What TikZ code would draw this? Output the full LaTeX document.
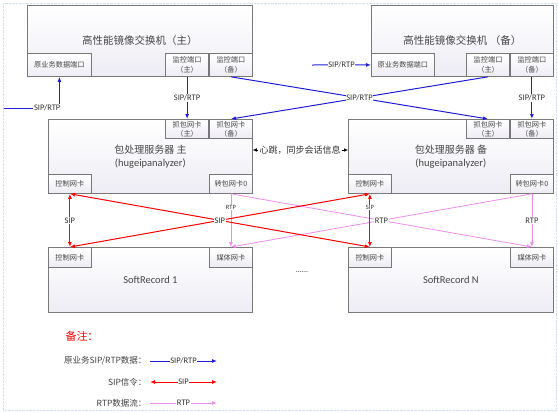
\documentclass[tikz,border=0pt]{standalone}
\usepackage{fontspec}
\setmainfont{Carlito}
\newfontfamily\cjk{Noto Sans CJK SC}
\usetikzlibrary{arrows.meta,positioning}
\definecolor{boxline}{RGB}{120,120,120}
\definecolor{boxfill}{RGB}{238,236,244}
\definecolor{sipblue}{RGB}{30,30,215}
\definecolor{rtppink}{RGB}{238,140,238}
\definecolor{txtgray}{RGB}{70,70,70}
\definecolor{frameblue}{RGB}{210,222,245}
\tikzset{
  box/.style={draw=boxline, line width=0.8pt, top color=white, bottom color=boxfill,
    inner sep=0pt, anchor=north west, text=txtgray},
  port/.style={draw=boxline, line width=0.8pt, top color=white, bottom color=boxfill,
    inner sep=0pt, minimum width=43pt, minimum height=19pt, text=txtgray, align=center,
    font=\cjk\fontsize{7.2}{9}\selectfont},
  bluearr/.style={draw=sipblue, line width=1pt, -{Latex[length=5pt,width=4pt]}},
  redarr/.style={draw=red, line width=1pt, {Latex[length=5pt,width=4pt]}-{Latex[length=5pt,width=4pt]}},
  pinkarr/.style={draw=rtppink, line width=0.8pt, -{Latex[length=5pt,width=4pt]}},
  lbl/.style={fill=white, inner sep=0.6pt, text=black!80, font=\fontsize{8.5}{9}\selectfont},
  tinylbl/.style={fill=white, inner sep=0.5pt, text=black!80, font=\fontsize{6.5}{7}\selectfont},
  legtxt/.style={anchor=east, text=black!75, font=\cjk\fontsize{8.5}{10}\selectfont}
}

\begin{document}
\begin{tikzpicture}[x=1pt,y=-1pt]
  \useasboundingbox (0,0) rectangle (558,413);
  \draw[frameblue, densely dotted] (3,3) rectangle (556,410);

  % mirror switches
  \node[box, minimum width=225pt, minimum height=71pt, font=\cjk\fontsize{10.5}{12}\selectfont] (swL) at (27,5) {高性能镜像交换机（主）};
  \node[port, minimum width=64pt, minimum height=23pt, anchor=south west] (datL) at (swL.south west) {原业务数据端口};
  \node[port, minimum height=23pt, anchor=south east, font=\cjk\fontsize{7.2}{10}\selectfont] (monLb) at (swL.south east) {监控端口\\（备）};
  \node[port, minimum height=23pt, anchor=south east, font=\cjk\fontsize{7.2}{10}\selectfont] (monLa) at (monLb.south west) {监控端口\\（主）};

  \node[box, minimum width=182pt, minimum height=71pt, font=\cjk\fontsize{10.5}{12}\selectfont] (swR) at (371,5) {高性能镜像交换机 （备）};
  \node[port, minimum width=63pt, minimum height=23pt, anchor=south west] (datR) at (swR.south west) {原业务数据端口};
  \node[port, minimum height=23pt, anchor=south east, font=\cjk\fontsize{7.2}{10}\selectfont] (monRb) at (swR.south east) {监控端口\\（备）};
  \node[port, minimum height=23pt, anchor=south east, font=\cjk\fontsize{7.2}{10}\selectfont] (monRa) at (monRb.south west) {监控端口\\（主）};

  % packet servers
  \node[box, minimum width=204pt, minimum height=74pt, align=center, font=\cjk\fontsize{10}{13}\selectfont] (srvL) at (48,119) {包处理服务器 主\\{\rmfamily\fontsize{10.5}{13}\selectfont (hugeipanalyzer)}};
  \node[port, anchor=north east] (capLb) at (srvL.north east) {抓包网卡\\（备）};
  \node[port, anchor=north east] (capLa) at (capLb.north west) {抓包网卡\\（主）};
  \node[port, anchor=south west] (ctlL) at (srvL.south west) {控制网卡};
  \node[port, anchor=south east] (fwdL) at (srvL.south east) {转包网卡0};

  \node[box, minimum width=205pt, minimum height=74pt, align=center, font=\cjk\fontsize{10}{13}\selectfont] (srvR) at (348,119) {包处理服务器 备\\{\rmfamily\fontsize{10.5}{13}\selectfont (hugeipanalyzer)}};
  \node[port, anchor=north east] (capRb) at (srvR.north east) {抓包网卡\\（备）};
  \node[port, anchor=north east] (capRa) at (capRb.north west) {抓包网卡\\（主）};
  \node[port, anchor=south west] (ctlR) at (srvR.south west) {控制网卡};
  \node[port, anchor=south east] (fwdR) at (srvR.south east) {转包网卡0};

  % heartbeat
  \node (hb) at (300,150) [inner sep=1pt, text=black!80, font=\cjk\fontsize{9}{10}\selectfont] {心跳，同步会话信息};
  \draw[line width=0.6pt, -{Latex[length=4pt,width=3.5pt]}] (hb.west) -- (hb.west -| srvL.east);
  \draw[line width=0.6pt, -{Latex[length=4pt,width=3.5pt]}] (hb.east) -- (hb.east -| srvR.west);

  % recorders
  \node[box, minimum width=204pt, minimum height=65pt, font=\fontsize{10.5}{12}\selectfont] (recL) at (48,247) {SoftRecord 1};
  \node[port, minimum height=20pt, anchor=north west] (rctlL) at (recL.north west) {控制网卡};
  \node[port, minimum height=20pt, anchor=north east] (medL) at (recL.north east) {媒体网卡};

  \node[box, minimum width=205pt, minimum height=65pt, font=\fontsize{10.5}{12}\selectfont] (recR) at (348,247) {SoftRecord N};
  \node[port, minimum height=20pt, anchor=north west] (rctlR) at (recR.north west) {控制网卡};
  \node[port, minimum height=20pt, anchor=north east] (medR) at (recR.north east) {媒体网卡};

  \node (dots) at (302,272) [text=black!80, font=\fontsize{8}{9}\selectfont] {......};

  % RTP streams
  \draw[pinkarr] (fwdL.south) -- node[tinylbl, pos=0.26] {RTP} (medL.north);
  \draw[pinkarr] (fwdL.south) -- (medR.north);
  \draw[pinkarr] (fwdR.south) -- node[lbl] {RTP} (medL.north);
  \draw[pinkarr] (fwdR.south) -- node[lbl] {RTP} (medR.north);

  % SIP signalling
  \draw[redarr] (ctlL.south) -- node[lbl] {SIP} (rctlL.north);
  \draw[redarr] (ctlL.south) -- (rctlR.north);
  \draw[redarr] (rctlL.north) -- node[lbl] {SIP} (ctlR.south);
  \draw[redarr] (ctlR.south) -- node[tinylbl, pos=0.26] {SIP} (rctlR.north);

  % mirrored traffic
  \coordinate (inL) at (4,108);
  \coordinate (inR) at (312,65);
  \draw[bluearr] (inL) -| node[lbl, pos=0.39] {SIP/RTP} (datL.south);
  \draw[bluearr] (inR) -- node[lbl] {SIP/RTP} (datR.west);
  \draw[bluearr] (monLa.south) -- node[lbl] {SIP/RTP} (capLa.north);
  \draw[bluearr] (monLb.south) -- (capRa.north);
  \draw[bluearr] (monRa.south) -- node[lbl] {SIP/RTP} (capLb.north);
  \draw[bluearr] (monRb.south) -- node[lbl] {SIP/RTP} (capRb.north);

  % legend
  \node (notes) at (82,336) [text=red, font=\cjk\fontsize{11}{12}\selectfont] {备注：};
  \node[legtxt] (lgA) at (150,361) {原业务SIP/RTP数据：};
  \node[legtxt] (lgB) at (150,382) {SIP信令：};
  \node[legtxt] (lgC) at (150,403) {RTP数据流：};
  \coordinate (lgAe) at (217,361);
  \coordinate (lgBe) at (217,382);
  \coordinate (lgCe) at (217,403);
  \draw[bluearr] (lgA.east) -- node[lbl] {SIP/RTP} (lgAe);
  \draw[redarr] (lgB.east) -- node[lbl] {SIP} (lgBe);
  \draw[pinkarr] (lgC.east) -- node[lbl] {RTP} (lgCe);
\end{tikzpicture}
\end{document}
